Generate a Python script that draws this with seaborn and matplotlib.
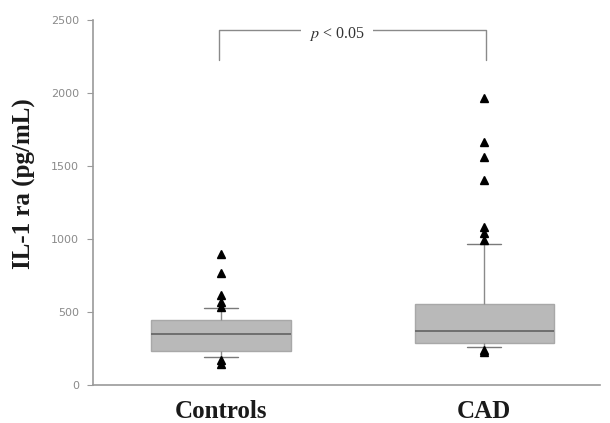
import numpy as np
import pandas as pd
import matplotlib
matplotlib.use("Agg")
import matplotlib.pyplot as plt
import seaborn as sns

# ---- data (pg/mL) ----
groups = ["Controls", "CAD"]
# five-number summaries: lower whisker (10th pct), Q1, median, Q3, upper whisker (90th pct)
controls_stats = [192, 233, 349, 445, 527]
cad_stats = [260, 288, 370, 555, 966]
controls_low_outliers = [144, 171]
controls_high_outliers = [534, 568, 616, 767, 897]
cad_low_outliers = [225, 240]
cad_high_outliers = [993, 1041, 1082, 1404, 1562, 1664, 1966]
y_ticks = [0, 500, 1000, 1500, 2000, 2500]
y_label = "IL-1 ra (pg/mL)"
p_text = "$p$ < 0.05"


def sample_from_summary(stats, low, high, m=2):
    """Build a sample whose 10/25/50/75/90 percentiles reproduce the summary."""
    lo_w, q1, med, q3, hi_w = stats
    n = 40 * m + 1
    vals = []
    vals += sorted(low)
    vals += [lo_w] * (4 * m - len(low) + 1)          # up to index 4m
    vals += [q1] * (6 * m)                             # to index 10m
    vals += [med] * (10 * m)                           # to index 20m
    vals += [q3] * (10 * m)                            # to index 30m
    vals += [hi_w] * (10 * m - len(high))              # to index 40m-H
    vals += sorted(high)
    assert len(vals) == n
    return vals


c_vals = sample_from_summary(controls_stats, controls_low_outliers, controls_high_outliers)
d_vals = sample_from_summary(cad_stats, cad_low_outliers, cad_high_outliers)
df = pd.DataFrame({
    "group": [groups[0]] * len(c_vals) + [groups[1]] * len(d_vals),
    "value": c_vals + d_vals,
})

sns.set_style("white")
plt.rcParams["mathtext.fontset"] = "stix"

fig = plt.figure(figsize=(6.10, 4.23), dpi=100)
ax = fig.add_axes([93 / 610, 1 - 385 / 423, 507 / 610, 365 / 423])

sns.boxplot(
    data=df, x="group", y="value", order=groups, ax=ax,
    whis=(10, 90), width=0.53, color="#b9b9b9", saturation=1,
    linecolor="#8f8f8f", linewidth=1.0,
    capwidths=0.13,
    medianprops=dict(color="#6e6e6e", linewidth=1.4),
    boxprops=dict(edgecolor="#a8a8a8", facecolor="#b9b9b9"),
    whiskerprops=dict(color="#8a8a8a", linewidth=1.0),
    capprops=dict(color="#7a7a7a", linewidth=1.0),
    flierprops=dict(marker="^", markerfacecolor="black", markeredgecolor="black",
                    markersize=5.5),
)

ax.set_xlim(-0.487, 1.44)
ax.set_ylim(0, 2500)
ax.set_yticks(y_ticks)
ax.set_yticklabels([str(t) for t in y_ticks])
ax.tick_params(axis="y", left=True, length=4, width=0.8, color="#9a9a9a",
               labelsize=8, labelcolor="#8a8a8a", pad=6)
ax.tick_params(axis="x", bottom=False, pad=7)
for lab in ax.get_xticklabels():
    lab.set_fontfamily("Liberation Serif")
    lab.set_fontweight("bold")
    lab.set_fontsize(18)
    lab.set_color("#1a1a1a")
ax.set_xlabel("")
ax.set_ylabel(y_label, fontfamily="Liberation Serif", fontweight="bold",
              fontsize=18, color="#1a1a1a")
ax.yaxis.set_label_coords(-0.112, 0.553)

for side in ["top", "right"]:
    ax.spines[side].set_visible(False)
for side in ["left", "bottom"]:
    ax.spines[side].set_color("#9a9a9a")
    ax.spines[side].set_linewidth(1.2)

# significance bracket
br_top, br_bot = 2432, 2226
ax.plot([-0.008, -0.008, 1.005, 1.005], [br_bot, br_top, br_top, br_bot],
        color="#8a8a8a", linewidth=1.0, clip_on=False)
ax.text(0.44, br_top - 25, p_text, ha="center", va="center", fontsize=11.5,
        fontfamily="Liberation Serif", color="#333333",
        bbox=dict(facecolor="white", edgecolor="none", pad=6))

fig.savefig("out.png", dpi=100)
